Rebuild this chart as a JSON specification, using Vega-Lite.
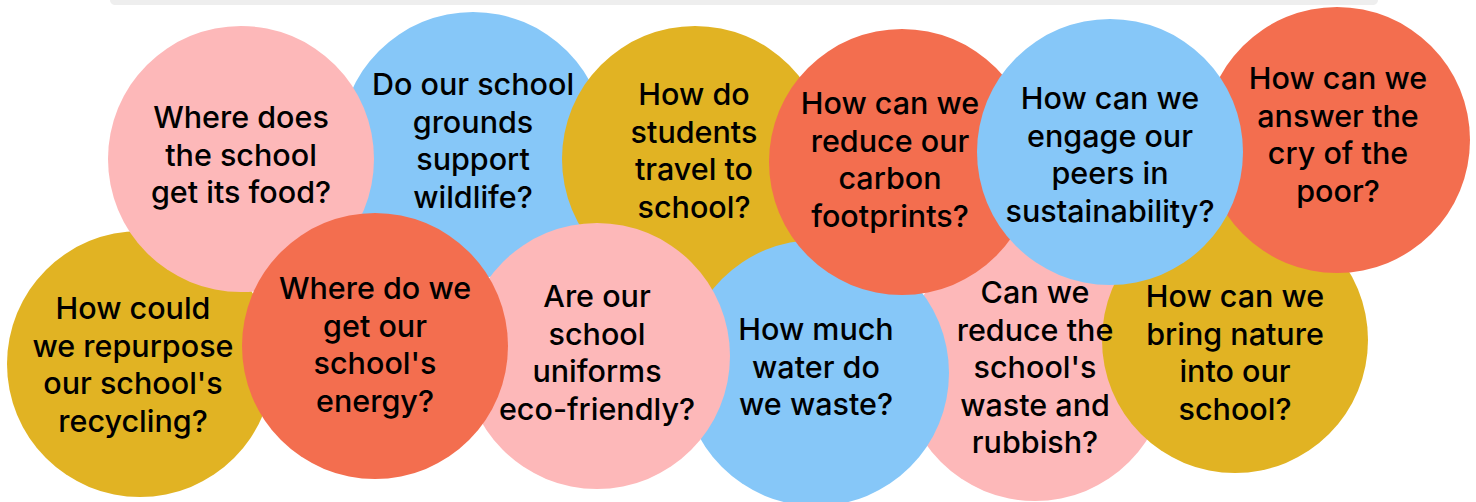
{
  "$schema": "https://vega.github.io/schema/vega-lite/v6.json",
  "width": 1476,
  "height": 502,
  "autosize": {"type": "none"},
  "padding": 0,
  "background": "white",
  "config": {"view": {"stroke": null}},
  "datasets": {
    "bar": [{"x0": 110, "x1": 1378, "y0": -6, "y1": 5}],
    "bubbles": [
      {"z": 1, "colour": "blue", "cx": 473, "cy": 145, "lx": 473, "ly": 86, "label": "Do our school\ngrounds\nsupport\nwildlife?"},
      {"z": 2, "colour": "yellow", "cx": 140, "cy": 364, "lx": 133, "ly": 310, "label": "How could\nwe repurpose\nour school's\nrecycling?"},
      {"z": 3, "colour": "pink", "cx": 241, "cy": 159, "lx": 241, "ly": 119, "label": "Where does\nthe school\nget its food?"},
      {"z": 4, "colour": "yellow", "cx": 695, "cy": 159, "lx": 694, "ly": 96, "label": "How do\nstudents\ntravel to\nschool?"},
      {"z": 5, "colour": "pink", "cx": 1035, "cy": 368, "lx": 1035, "ly": 294, "label": "Can we\nreduce the\nschool's\nwaste and\nrubbish?"},
      {"z": 6, "colour": "blue", "cx": 816, "cy": 373, "lx": 816, "ly": 331, "label": "How much\nwater do\nwe waste?"},
      {"z": 7, "colour": "pink", "cx": 597, "cy": 356, "lx": 597, "ly": 298, "label": "Are our\nschool\nuniforms\neco-friendly?"},
      {"z": 8, "colour": "orange", "cx": 375, "cy": 346, "lx": 375, "ly": 290, "label": "Where do we\nget our\nschool's\nenergy?"},
      {"z": 9, "colour": "orange", "cx": 902, "cy": 162, "lx": 890, "ly": 105, "label": "How can we\nreduce our\ncarbon\nfootprints?"},
      {"z": 10, "colour": "yellow", "cx": 1235, "cy": 340, "lx": 1235, "ly": 298, "label": "How can we\nbring nature\ninto our\nschool?"},
      {"z": 11, "colour": "orange", "cx": 1337, "cy": 140, "lx": 1338, "ly": 80, "label": "How can we\nanswer the\ncry of the\npoor?"},
      {"z": 12, "colour": "blue", "cx": 1110, "cy": 152, "lx": 1110, "ly": 100, "label": "How can we\nengage our\npeers in\nsustainability?"}
    ]
  },
  "layer": [
    {
      "data": {"name": "bar"},
      "mark": {"type": "rect", "fill": "#EEEEEE", "cornerRadius": 5},
      "encoding": {
        "x": {"field": "x0", "type": "quantitative", "scale": {"domain": [0, 1476], "nice": false, "zero": false}, "axis": null},
        "x2": {"field": "x1"},
        "y": {"field": "y0", "type": "quantitative", "scale": {"domain": [0, 502], "reverse": true, "nice": false, "zero": false}, "axis": null},
        "y2": {"field": "y1"}
      }
    },
    {
      "data": {"name": "bubbles"},
      "mark": {"type": "circle", "size": 70756, "opacity": 1},
      "encoding": {
        "x": {"field": "cx", "type": "quantitative", "axis": null},
        "y": {"field": "cy", "type": "quantitative", "axis": null},
        "color": {"field": "colour", "type": "nominal", "legend": null, "scale": {"domain": ["pink", "blue", "yellow", "orange"], "range": ["#FDB8B9", "#86C7F8", "#E1B323", "#F36E4F"]}},
        "order": {"field": "z", "type": "quantitative"}
      }
    },
    {
      "data": {"name": "bubbles"},
      "mark": {"type": "text", "font": "Inter", "fontSize": 30.5, "fontWeight": 500, "lineBreak": "\n", "lineHeight": 37.5, "align": "center", "baseline": "middle", "color": "#000000"},
      "encoding": {
        "x": {"field": "lx", "type": "quantitative", "axis": null},
        "y": {"field": "ly", "type": "quantitative", "axis": null},
        "text": {"field": "label", "type": "nominal"}
      }
    }
  ]
}
